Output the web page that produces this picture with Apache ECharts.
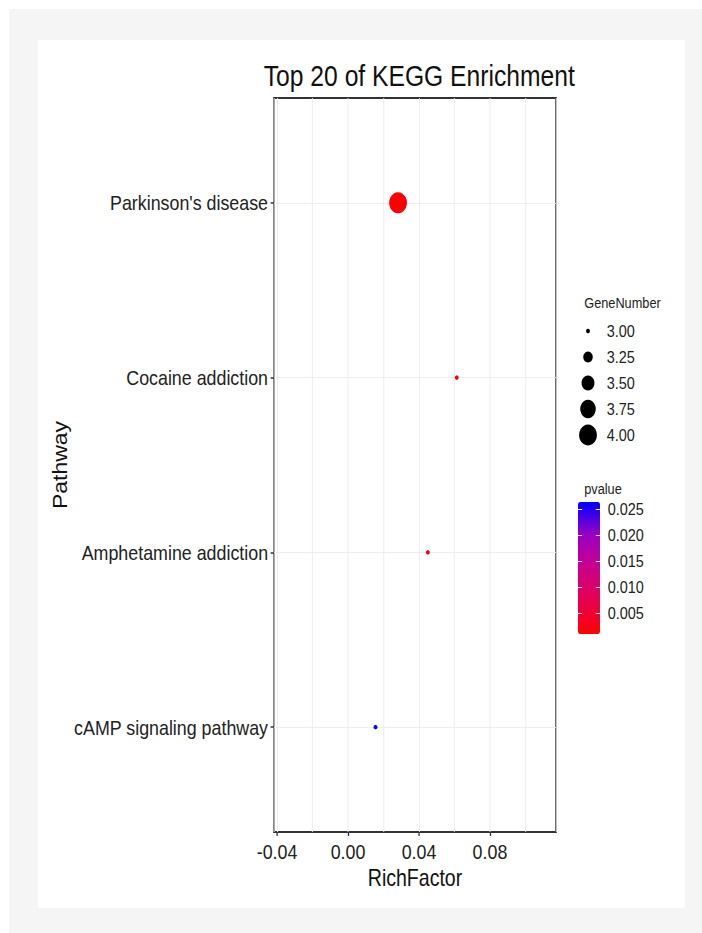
<!DOCTYPE html>
<html>
<head>
<meta charset="utf-8">
<script src="https://cdn.jsdelivr.net/npm/echarts@6/dist/echarts.min.js"></script>
<style>
html,body{margin:0;padding:0;width:702px;height:933px;overflow:hidden;background:#fff;position:relative}
#bg1{position:absolute;left:9px;top:9px;right:0;bottom:0;background:#f5f5f5}
#bg2{position:absolute;left:38px;top:40px;width:647px;height:868px;background:#fff}
#chart{position:absolute;left:0;top:0;width:826px;height:933px;transform:scaleX(0.85);transform-origin:0 0}
</style>
</head>
<body>
<div id="bg1"></div>
<div id="bg2"></div>
<div id="chart"></div>
<script>
// ---- data ----
const categories = ["cAMP signaling pathway", "Amphetamine addiction", "Cocaine addiction", "Parkinson's disease"];
const richFactor = [0.0155, 0.0450, 0.0613, 0.0282];
const geneNumber = [3, 3, 3, 4];
const pvalue = [0.0264, 0.0025, 0.0015, 0.00096];
const xTickLabels = [-0.04, 0.00, 0.04, 0.08];
const sizeLegendValues = [3.00, 3.25, 3.50, 3.75, 4.00];
const pvalueTickLabels = [0.005, 0.010, 0.015, 0.020, 0.025];

// ---- layout helpers (horizontal squeeze to match reference aspect) ----
const K = 0.85;
const X = px => px / K;
const FONT = "'Liberation Sans', Arial, Helvetica, sans-serif";

function dotSize(g) {
  const a = 1.65;
  const s2 = a + (36 - a) * (g - 3) / (4 - 3);
  return 21 * Math.sqrt(s2) / 6;
}

const pMin = Math.min(...pvalue), pMax = Math.max(...pvalue);
const mainData = categories.map((c, i) => [richFactor[i], i + 1, geneNumber[i], pvalue[i]]);

const plotL = X(274), plotR = X(556);
const xMin = -0.0417, xMax = 0.1172;

const chart = echarts.init(document.getElementById('chart'), null, {renderer: 'svg'});
chart.setOption({
  animation: false,
  backgroundColor: 'transparent',
  textStyle: {fontFamily: FONT},
  title: [
    {text: 'Top 20 of KEGG Enrichment', left: (plotL + plotR) / 2, top: 57, textAlign: 'center',
     textStyle: {fontFamily: FONT, fontSize: 29, fontWeight: 'normal', color: '#111'}},
    {text: 'GeneNumber', left: X(580), top: 290,
     textStyle: {fontFamily: FONT, fontSize: 15, fontWeight: 'normal', color: '#222'}},
    {text: 'pvalue', left: X(580), top: 476,
     textStyle: {fontFamily: FONT, fontSize: 15, fontWeight: 'normal', color: '#222'}}
  ],
  grid: [
    {left: plotL, width: plotR - plotL, top: 98, height: 734, show: true,
     borderColor: '#333', borderWidth: 2, backgroundColor: 'transparent', containLabel: false},
    {left: X(588) - 10, width: 20, top: 305, height: 156, show: false},
    {left: X(578), width: X(600) - X(578), top: 502, height: 132, show: false}
  ],
  xAxis: [
    {gridIndex: 0, type: 'value', min: xMin, max: xMax, splitNumber: 8,
     name: 'RichFactor', nameLocation: 'middle', nameGap: 33,
     nameTextStyle: {fontFamily: FONT, fontSize: 23, color: '#111'},
     axisLine: {show: false, onZero: false},
     axisTick: {show: true, customValues: xTickLabels, length: 4, lineStyle: {color: '#333', width: 1.5}},
     axisLabel: {customValues: xTickLabels, formatter: v => v.toFixed(2), fontSize: 21, color: '#222', margin: 9, fontFamily: FONT},
     splitLine: {show: false}},
    {gridIndex: 1, type: 'value', min: 0, max: 1, show: false},
    {gridIndex: 2, type: 'value', min: 0, max: 1, show: false},
    // grid-line axis for major + minor vertical lines (every 0.02)
    {gridIndex: 0, type: 'value', min: xMin, max: xMax, splitNumber: 8, position: 'bottom',
     axisLine: {show: false, onZero: false}, axisTick: {show: false}, axisLabel: {show: false},
     splitLine: {show: true, lineStyle: {color: '#ebebeb', width: 1}}}
  ],
  yAxis: [
    {gridIndex: 0, type: 'value', min: 0.4, max: 4.6, splitNumber: 4,
     name: 'Pathway', nameLocation: 'middle', nameGap: 230,
     nameTextStyle: {fontFamily: FONT, fontSize: 23, color: '#111'},
     axisLine: {show: false, onZero: false},
     axisTick: {show: true, customValues: [1, 2, 3, 4], length: 4, lineStyle: {color: '#333', width: 1.5}},
     axisLabel: {customValues: [1, 2, 3, 4], formatter: v => categories[Math.round(v) - 1] || '',
                 fontSize: 21, color: '#222', margin: 7, fontFamily: FONT},
     splitLine: {show: true, lineStyle: {color: '#ebebeb', width: 1}}},
    {gridIndex: 1, type: 'value', min: 2.75, max: 4.25, inverse: true, position: 'right',
     axisLine: {show: false, onZero: false}, axisTick: {show: false}, splitLine: {show: false},
     axisLabel: {customValues: sizeLegendValues, formatter: v => v.toFixed(2), fontSize: 17, color: '#222', margin: 12, fontFamily: FONT}},
    {gridIndex: 2, type: 'value', min: pMin, max: pMax, position: 'right', z: 10,
     axisLine: {show: false, onZero: false}, splitLine: {show: false},
     axisTick: {show: true, inside: true, customValues: pvalueTickLabels, length: 5, lineStyle: {color: '#fff', width: 1}},
     axisLabel: {customValues: pvalueTickLabels, formatter: v => v.toFixed(3), fontSize: 17, color: '#222', margin: 9, fontFamily: FONT}},
    {gridIndex: 2, type: 'value', min: pMin, max: pMax, position: 'left', z: 10,
     axisLine: {show: false, onZero: false}, splitLine: {show: false}, axisLabel: {show: false},
     axisTick: {show: true, inside: true, customValues: pvalueTickLabels, length: 5, lineStyle: {color: '#fff', width: 1}}}
  ],
  visualMap: {
    type: 'continuous', min: pMin, max: pMax, dimension: 3, seriesIndex: 0,
    calculable: false, text: null, padding: 0, orient: 'vertical',
    left: X(578), top: 502, itemWidth: X(600) - X(578), itemHeight: 132,
    inRange: {color: ['#FF0000', '#E8004F', '#CA0089', '#9A00C2', '#0000FF']}
  },
  series: [
    {type: 'scatter', xAxisIndex: 0, yAxisIndex: 0, data: mainData,
     symbol: 'circle', symbolSize: v => dotSize(v[2]),
     itemStyle: {opacity: 1}, emphasis: {disabled: true}},
    {type: 'scatter', xAxisIndex: 1, yAxisIndex: 1,
     data: sizeLegendValues.map(g => [0.5, g]),
     symbol: 'circle', symbolSize: v => dotSize(v[1]),
     itemStyle: {color: '#000', opacity: 1}, emphasis: {disabled: true}, silent: true}
  ]
});
</script>
</body>
</html>
